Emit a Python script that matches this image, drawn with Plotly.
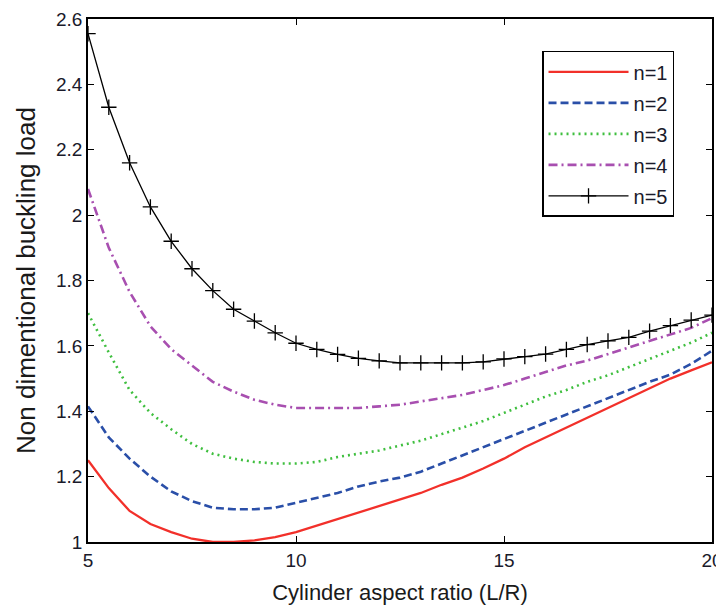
import plotly.graph_objects as go

x_ratio = [5, 5.5, 6, 6.5, 7, 7.5, 8, 8.5, 9, 9.5, 10, 10.5, 11, 11.5, 12, 12.5,
           13, 13.5, 14, 14.5, 15, 15.5, 16, 16.5, 17, 17.5, 18, 18.5, 19, 19.5, 20]

n1 = [1.25, 1.165, 1.095, 1.055, 1.03, 1.01, 1.0, 1.0, 1.005, 1.015, 1.03, 1.05,
      1.07, 1.09, 1.11, 1.13, 1.15, 1.175, 1.197, 1.225, 1.255, 1.29, 1.32, 1.35,
      1.38, 1.41, 1.44, 1.47, 1.50, 1.525, 1.55]
n2 = [1.415, 1.32, 1.255, 1.2, 1.155, 1.125, 1.105, 1.1, 1.1, 1.105, 1.12, 1.135,
      1.15, 1.17, 1.185, 1.197, 1.215, 1.24, 1.265, 1.29, 1.315, 1.34, 1.365, 1.39,
      1.415, 1.44, 1.465, 1.49, 1.512, 1.545, 1.585]
n3 = [1.70, 1.58, 1.465, 1.395, 1.345, 1.30, 1.27, 1.255, 1.245, 1.24, 1.24, 1.245,
      1.26, 1.27, 1.28, 1.295, 1.31, 1.33, 1.35, 1.37, 1.395, 1.42, 1.445, 1.465,
      1.49, 1.51, 1.535, 1.56, 1.585, 1.61, 1.64]
n4 = [2.08, 1.90, 1.765, 1.66, 1.59, 1.54, 1.49, 1.46, 1.435, 1.42, 1.41, 1.41,
      1.41, 1.41, 1.415, 1.42, 1.43, 1.44, 1.45, 1.465, 1.48, 1.50, 1.52, 1.54,
      1.555, 1.575, 1.595, 1.615, 1.635, 1.655, 1.685]
n5 = [2.555, 2.33, 2.16, 2.025, 1.92, 1.836, 1.769, 1.712, 1.676, 1.64, 1.608, 1.589,
      1.574, 1.562, 1.554, 1.548, 1.548, 1.548, 1.548, 1.551, 1.56, 1.567, 1.575, 1.589,
      1.604, 1.615, 1.626, 1.645, 1.662, 1.679, 1.694]

series_names = ["n=1", "n=2", "n=3", "n=4", "n=5"]
x_ticks = [5, 10, 15, 20]
y_ticks = [1, 1.2, 1.4, 1.6, 1.8, 2, 2.2, 2.4, 2.6]

FONT = "Liberation Sans, Arial, sans-serif"

fig = go.Figure()
styles = [
    dict(color="#f2302a", width=2.3, dash="solid"),
    dict(color="#2a4fa8", width=2.6, dash="8px,4px"),
    dict(color="#3fbf3f", width=2.6, dash="2px,4px"),
    dict(color="#a84fb0", width=2.6, dash="9px,4px,2px,4px"),
]
for name, ys, st in zip(series_names[:4], [n1, n2, n3, n4], styles):
    fig.add_trace(go.Scatter(x=x_ratio, y=ys, mode="lines", name=name, line=st,
                             legendgroup=name))
fig.add_trace(go.Scatter(
    x=x_ratio, y=n5, mode="lines+markers", name=series_names[4], legendgroup=series_names[4],
    line=dict(color="black", width=1.3),
    marker=dict(symbol="cross-thin", size=11, color="black",
                line=dict(color="black", width=1.3)),
))

axis_common = dict(
    showline=True, linecolor="black", linewidth=1.5, mirror="ticks",
    ticks="inside", ticklen=6, tickcolor="black", tickwidth=1.3,
    showgrid=False, zeroline=False, automargin=False,
    tickfont=dict(family=FONT, size=19, color="#1a1a2a"),
)

# the page body adds an 8px offset, so the figure is sized 716x599
fig.update_layout(
    width=716, height=599,
    margin=dict(l=80, r=12, t=11, b=65),
    paper_bgcolor="white", plot_bgcolor="white",
    font=dict(family=FONT, color="black"),
    xaxis=dict(range=[5, 20], tickvals=x_ticks, **axis_common,
               title=dict(text="Cylinder aspect ratio (L/R)", standoff=15,
                          font=dict(family=FONT, size=22, color="#1a1a1a"))),
    yaxis=dict(range=[1, 2.6], tickvals=y_ticks, **axis_common,
               title=dict(text="Non dimentional buckling load", standoff=13,
                          font=dict(family=FONT, size=26, color="#1a1a1a"))),
    legend=dict(x=0.7276, y=0.939, xanchor="left", yanchor="top",
                bgcolor="white", bordercolor="black", borderwidth=1.5,
                font=dict(family=FONT, size=20, color="#1a1a2a"),
                tracegroupgap=2, itemwidth=80),
    showlegend=True,
)

fig.write_html("out.html")
